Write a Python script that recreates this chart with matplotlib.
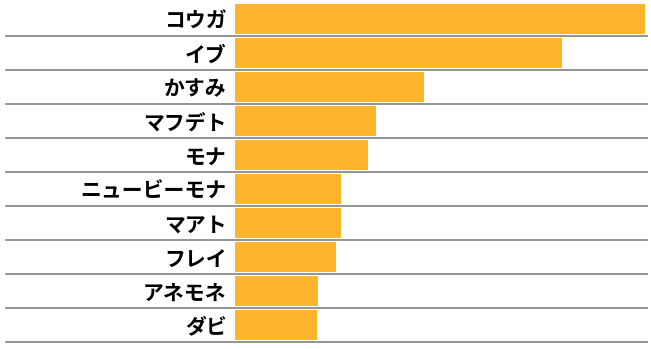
import matplotlib
matplotlib.use("Agg")
import matplotlib.pyplot as plt

plt.rcParams['font.family'] = ['Noto Sans CJK JP', 'DejaVu Sans']

names = ["コウガ", "イブ", "かすみ", "マフデト", "モナ", "ニュービーモナ", "マアト", "フレイ", "アネモネ", "ダビ"]
values = [410, 327, 189, 141, 133, 106, 106, 101, 83, 82]

bar_color = "#FDB52B"
grid_color = "#8a8a8a"

W, H = 651, 349
fig = plt.figure(figsize=(W / 100, H / 100), dpi=100)
ax_left, ax_right = 235 / W, 647 / W
ax_top, ax_bottom = 1 - 2 / H, 1 - 342 / H
ax = fig.add_axes([ax_left, ax_bottom, ax_right - ax_left, ax_top - ax_bottom])

n = len(names)
pos = list(range(n))
ax.barh(pos, values, height=0.89, color=bar_color, zorder=2)
ax.set_ylim(n - 0.5, -0.5)
ax.set_xlim(0, max(values) * 412 / 410)

ax.set_yticks(pos)
ax.set_yticklabels(names, fontsize=15, fontweight='bold', color='black')
ax.tick_params(axis='y', length=0, pad=6)
ax.set_xticks([])
for s in ax.spines.values():
    s.set_visible(False)

# row separators extending left beyond the axes
xmin_ext = (6 / W - ax_left) / (ax_right - ax_left)
for i in range(n):
    ax.axhline(i + 0.5, xmin=xmin_ext, xmax=1, color=grid_color, linewidth=1.3,
               clip_on=False, zorder=3)

fig.savefig("out.png", dpi=100)
